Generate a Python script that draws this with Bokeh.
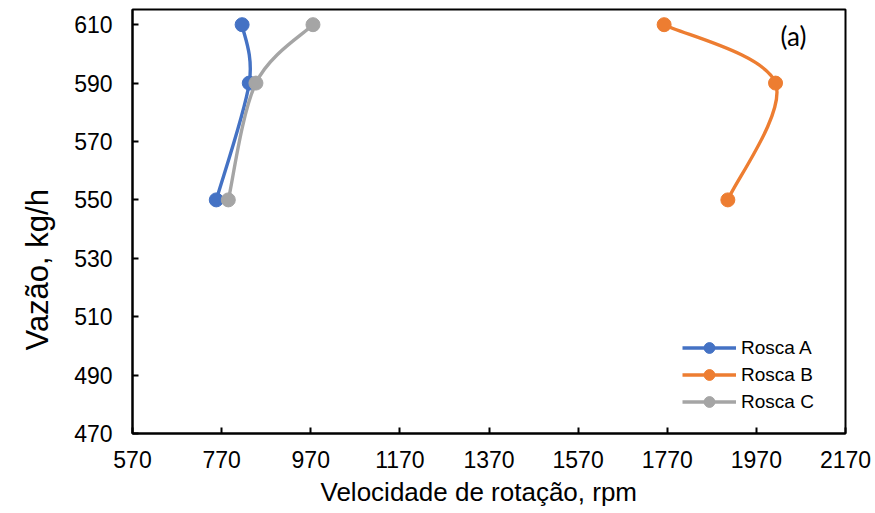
from bokeh.plotting import figure
from bokeh.models import Range1d, FixedTicker, Legend, LegendItem, Label, Title
from bokeh.embed import file_html
from bokeh.resources import INLINE

# ---- data ----
flow = [550, 590, 610]                 # Vazão, kg/h
rosca_a = [758, 832, 816]              # rpm
rosca_b = [1906, 2013, 1763]
rosca_c = [785, 847, 975]
series_names = ["Rosca A", "Rosca B", "Rosca C"]
series_colors = ["#4472C4", "#ED7D31", "#A5A5A5"]
x_ticks = [570, 770, 970, 1170, 1370, 1570, 1770, 1970, 2170]
y_ticks = [470, 490, 510, 530, 550, 570, 590, 610]
x_title = "Velocidade de rotação, rpm"
y_title = "Vazão, kg/h"
panel_tag = "(a)"

FONT = "Liberation Sans"


def smooth_segments(xs, ys):
    """Bezier control points for a Catmull-Rom style smoothed line (Excel-like)."""
    n = len(xs)
    seg = dict(x0=[], y0=[], x1=[], y1=[], cx0=[], cy0=[], cx1=[], cy1=[])
    for i in range(n - 1):
        pi, pj = i - 1 if i > 0 else i, i + 2 if i + 2 < n else i + 1
        seg["x0"].append(xs[i]); seg["y0"].append(ys[i])
        seg["x1"].append(xs[i + 1]); seg["y1"].append(ys[i + 1])
        seg["cx0"].append(xs[i] + (xs[i + 1] - xs[pi]) / 6)
        seg["cy0"].append(ys[i] + (ys[i + 1] - ys[pi]) / 6)
        seg["cx1"].append(xs[i + 1] - (xs[pj] - xs[i]) / 6)
        seg["cy1"].append(ys[i + 1] - (ys[pj] - ys[i]) / 6)
    return seg


p = figure(width=875, height=513, output_backend="svg", toolbar_location=None,
           x_range=Range1d(570, 2170), y_range=Range1d(470, 615.2),
           min_border_left=132, min_border_right=30, min_border_top=9,
           min_border_bottom=80)

p.xgrid.visible = False
p.ygrid.visible = False
p.outline_line_color = "black"
p.outline_line_width = 2
p.outline_line_alpha = 1.0
p.background_fill_color = "white"
p.border_fill_color = "white"

items = []
for name, color, xs in zip(series_names, series_colors, [rosca_a, rosca_b, rosca_c]):
    seg = smooth_segments(xs, flow)
    bz = p.bezier(line_color=color, line_width=3.4, **seg)
    sc = p.scatter(xs, flow, size=14, marker="circle", fill_color=color,
                   line_color=color)
    items.append(LegendItem(label=name, renderers=[bz, sc]))

legend = Legend(items=items, location=(550, 18), padding=0, margin=0,
                border_line_color=None, background_fill_alpha=0,
                glyph_width=54, glyph_height=27, label_height=27, spacing=0,
                label_standoff=5, label_text_font=FONT,
                label_text_font_size="19px", label_text_color="#000000")
p.add_layout(legend, "center")

p.add_layout(Label(x=661, y=398, x_units="screen", y_units="screen", text=panel_tag,
                   text_font="Lato", text_font_size="26px", text_align="center",
                   text_baseline="middle", text_color="#000000"))

for ax in (p.xaxis[0], p.yaxis[0]):
    ax.axis_line_color = "black"
    ax.axis_line_width = 2
    ax.major_tick_line_color = "black"
    ax.major_tick_line_width = 2
    ax.major_tick_in = 6
    ax.major_tick_out = 0
    ax.minor_tick_line_color = None
    ax.major_label_text_font = FONT
    ax.major_label_text_font_size = "23px"
    ax.major_label_text_color = "#000000"

p.xaxis.ticker = FixedTicker(ticks=x_ticks)
p.yaxis.ticker = FixedTicker(ticks=y_ticks)
p.xaxis.major_label_standoff = 17
p.yaxis.major_label_standoff = 20

p.add_layout(Title(text=x_title, align="left", offset=188, standoff=8,
                   text_font=FONT, text_font_size="26px",
                   text_font_style="normal", text_color="#000000"), "below")
p.add_layout(Title(text=y_title, align="left", offset=83, standoff=33,
                   text_font=FONT, text_font_size="31px",
                   text_font_style="normal", text_color="#000000"), "left")

open("out.html", "w").write(file_html(p, INLINE))
